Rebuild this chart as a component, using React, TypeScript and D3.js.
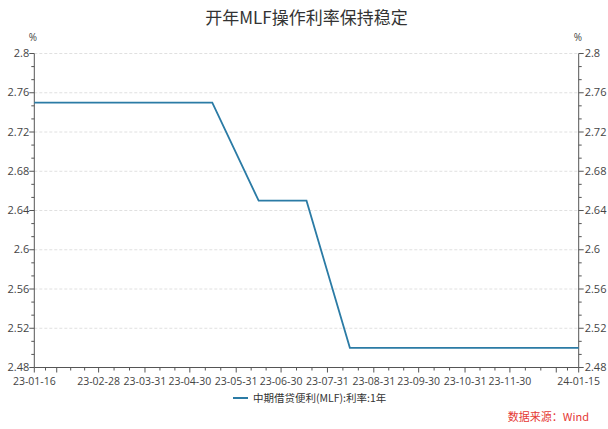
import React from "react";
import * as d3 from "d3";

const dates: string[] = [
  "2023-01-16", "2023-02-15", "2023-03-15", "2023-04-17", "2023-05-15", "2023-06-15",
  "2023-07-17", "2023-08-15", "2023-09-15", "2023-10-16", "2023-11-15", "2023-12-15", "2024-01-15",
];
const values: number[] = [2.75, 2.75, 2.75, 2.75, 2.75, 2.65, 2.65, 2.5, 2.5, 2.5, 2.5, 2.5, 2.5];
const xTickLabels: string[] = [
  "2023-01-16", "2023-02-28", "2023-03-31", "2023-04-30", "2023-05-31", "2023-06-30",
  "2023-07-31", "2023-08-31", "2023-09-30", "2023-10-31", "2023-11-30", "2024-01-15",
];
const xMajorUnlabeled: string[] = ["2023-01-31", "2023-12-31"];
const yTicks: number[] = [2.48, 2.52, 2.56, 2.6, 2.64, 2.68, 2.72, 2.76, 2.8];
const title = "开年MLF操作利率保持稳定";
const seriesName = "中期借贷便利(MLF):利率:1年";
const source = "数据来源：Wind";

const W = 608, H = 429;
const L = 34.3, R = 578.7, T = 53.5, B = 367.5;
const FONT = "'Noto Sans CJK SC', 'Noto Sans', sans-serif";
const NUMFONT = "'Open Sans', 'Noto Sans', sans-serif";

export default function App() {
  const parse = d3.timeParse("%Y-%m-%d");
  const pts = dates.map((d, i) => ({ d: parse(d) as Date, v: values[i] }));
  const x = d3.scaleTime()
    .domain([parse("2023-01-16") as Date, parse("2024-01-15") as Date])
    .range([L, R]);
  const y = d3.scaleLinear().domain([2.48, 2.8]).range([B, T]);
  const line = d3.line<{ d: Date; v: number }>().x((p) => x(p.d)).y((p) => y(p.v));

  const fmt = d3.timeFormat("%y-%m-%d");
  const majors = [...xTickLabels, ...xMajorUnlabeled].map((s) => parse(s) as Date).sort((a, b) => +a - +b);
  const minors: number[] = [];
  for (let i = 0; i < majors.length - 1; i++) {
    const a = x(majors[i]), b = x(majors[i + 1]);
    const n = b - a > 30 ? 3 : 2;
    for (let k = 1; k < n; k++) minors.push(a + ((b - a) * k) / n);
  }
  const yMinor: number[] = [];
  for (let i = 0; i < yTicks.length - 1; i++) {
    for (let k = 1; k < 3; k++) yMinor.push(y(yTicks[i] + ((yTicks[i + 1] - yTicks[i]) * k) / 3));
  }
  const axisColor = "#555";
  const textColor = "#444";

  return (
    <svg width={W} height={H} style={{ position: "absolute", left: 0, top: 0, background: "#fff" }} fontFamily={FONT}>
      <text x={(L + R) / 2} y={24} textAnchor="middle" fontSize={17} fill="#333">{title}</text>
      <text x={33} y={41} textAnchor="middle" fontSize={10} fill={textColor} fontFamily={NUMFONT}>%</text>
      <text x={578} y={41} textAnchor="middle" fontSize={10} fill={textColor} fontFamily={NUMFONT}>%</text>

      {yTicks.slice(1).map((t) => (
        <line key={"g" + t} x1={L} x2={R} y1={y(t)} y2={y(t)} stroke="#d8d8d8" strokeWidth={0.8} strokeDasharray="3,2" />
      ))}

      <line x1={L} x2={L} y1={T} y2={B} stroke={axisColor} strokeWidth={1} />
      <line x1={R} x2={R} y1={T} y2={B} stroke={axisColor} strokeWidth={1} />
      {yTicks.map((t) => (
        <g key={"yt" + t}>
          <line x1={L - 5} x2={L} y1={y(t)} y2={y(t)} stroke={axisColor} />
          <text x={L - 5} y={y(t) + 3.5} textAnchor="end" fontSize={11} fill={textColor} fontFamily={NUMFONT}>{d3.format("")(t)}</text>
          <line x1={R} x2={R + 5} y1={y(t)} y2={y(t)} stroke={axisColor} />
          <text x={R + 6} y={y(t) + 3.5} textAnchor="start" fontSize={11} fill={textColor} fontFamily={NUMFONT}>{d3.format("")(t)}</text>
        </g>
      ))}
      {yMinor.map((yy, i) => (
        <g key={"ym" + i}>
          <line x1={L - 3} x2={L} y1={yy} y2={yy} stroke={axisColor} />
          <line x1={R} x2={R + 3} y1={yy} y2={yy} stroke={axisColor} />
        </g>
      ))}

      <line x1={L} x2={R} y1={B} y2={B} stroke={axisColor} strokeWidth={1} />
      {majors.map((d, i) => (
        <line key={"xm" + i} x1={x(d)} x2={x(d)} y1={B} y2={B + 5} stroke={axisColor} />
      ))}
      {minors.map((xx, i) => (
        <line key={"xn" + i} x1={xx} x2={xx} y1={B} y2={B + 3} stroke={axisColor} />
      ))}
      {xTickLabels.map((s) => {
        const d = parse(s) as Date;
        return (
          <text key={"xl" + s} x={x(d)} y={B + 17} textAnchor="middle" fontSize={10.5} fill={textColor} fontFamily={NUMFONT}>{fmt(d)}</text>
        );
      })}

      <path d={line(pts) || ""} fill="none" stroke="#2b7ba5" strokeWidth={1.8} />

      <line x1={233} x2={248} y1={398} y2={398} stroke="#2b7ba5" strokeWidth={2} />
      <text x={253} y={402} fontSize={10.5} fill="#333">{seriesName}</text>

      <text x={589} y={421} textAnchor="end" fontSize={11} fill="#e53935">{source}</text>
    </svg>
  );
}
